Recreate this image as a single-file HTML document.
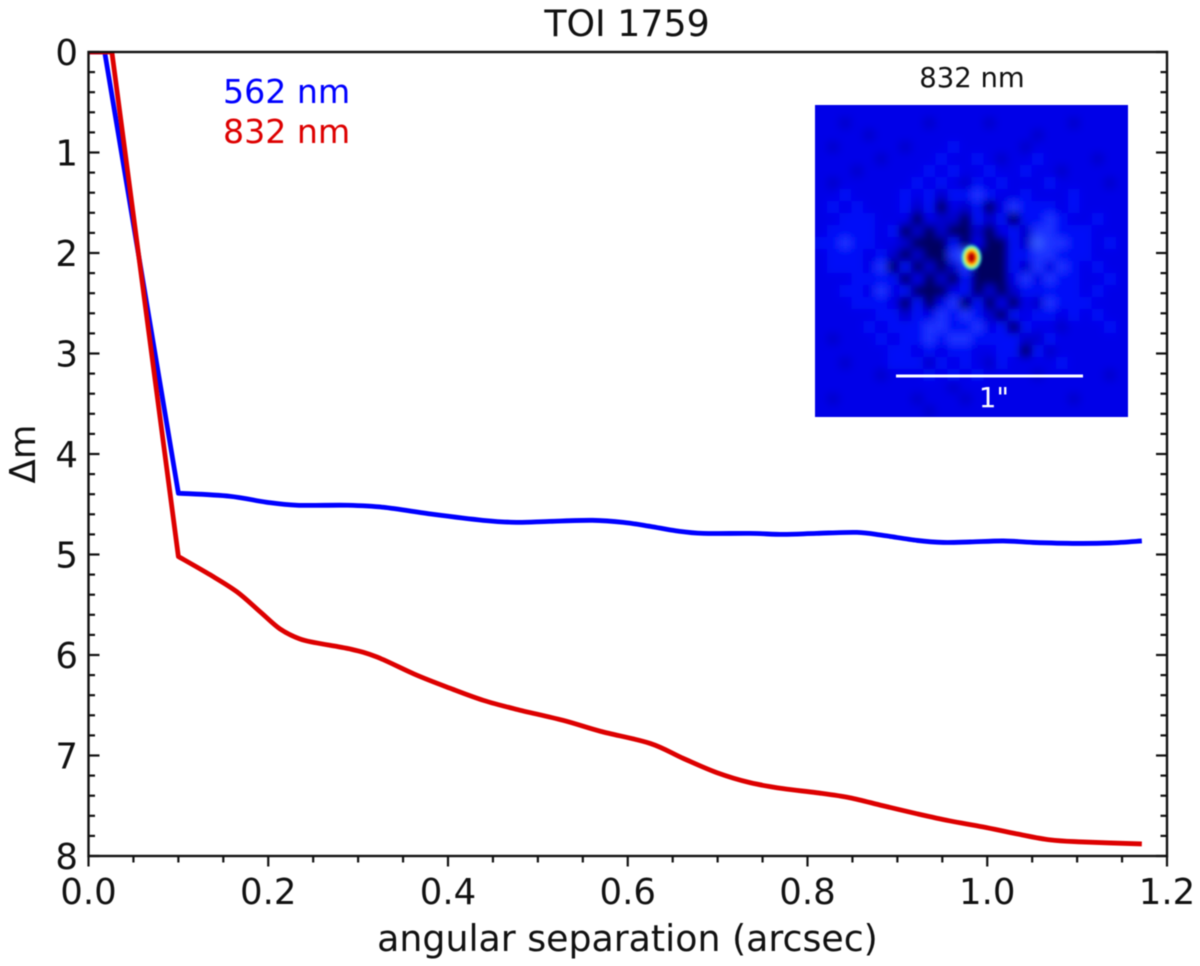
<!DOCTYPE html>
<html lang="en">
<head>
<meta charset="utf-8">
<title>TOI 1759 contrast curve</title>
<style>
html,body{margin:0;padding:0;background:#fff;width:1200px;height:966px;overflow:hidden}
svg{display:block;filter:blur(0.6px)}
text{font-family:"DejaVu Sans","Liberation Sans",sans-serif;fill:#111}
</style>
</head>
<body>
<svg id="chart" xmlns="http://www.w3.org/2000/svg" width="1200" height="966" viewBox="0 0 1200 966">
  <defs>
    <clipPath id="plot-clip"><rect x="88.5" y="52" width="1078.5" height="804"/></clipPath>
    <clipPath id="inset-clip"><rect x="815" y="105" width="313" height="312"/></clipPath>
    <filter id="smooth" x="-5%" y="-5%" width="110%" height="110%"><feGaussianBlur stdDeviation="4.2"/></filter>
    <filter id="peak-smooth" x="-50%" y="-50%" width="200%" height="200%"><feGaussianBlur stdDeviation="1.3"/></filter>
  </defs>
  <text x="627" y="36" font-size="36.3" text-anchor="middle">TOI 1759</text>
  <g id="inset">
    <text x="972" y="87" font-size="27.5" text-anchor="middle">832 nm</text>
    <rect x="815" y="105" width="313" height="312" fill="#0000e4"/>
    <g clip-path="url(#inset-clip)"><g id="heat" filter="url(#smooth)"></g></g>
    <g id="peak" filter="url(#peak-smooth)"></g>
    <line x1="896" x2="1083" y1="376" y2="376" stroke="#fff" stroke-width="3"/>
    <text x="994" y="407" font-size="27.5" text-anchor="middle" style="fill:#fff">1"</text>
  </g>
  <g id="series" clip-path="url(#plot-clip)"></g>
  <g id="axes"></g>
  <text x="223" y="103" font-size="33.2" style="fill:#0000ff">562 nm</text>
  <text x="223" y="143" font-size="33.2" style="fill:#dd0000">832 nm</text>
  <text x="627.5" y="951" font-size="36.3" text-anchor="middle">angular separation (arcsec)</text>
  <text transform="translate(35 454) rotate(-90)" font-size="35.5" text-anchor="middle">Δm</text>
</svg>
<script>
const xTickLabels = ['0.0', '0.2', '0.4', '0.6', '0.8', '1.0', '1.2'];
const yTickLabels = ['0', '1', '2', '3', '4', '5', '6', '7', '8'];
const blueX = [0, 0.018, 0.1, 0.157, 0.198, 0.232, 0.288, 0.328, 0.383, 0.439, 0.476, 0.513, 0.561, 0.595, 0.625, 0.654, 0.684, 0.736, 0.773, 0.81, 0.855, 0.884, 0.922, 0.951, 0.981, 1.018, 1.051, 1.1, 1.137, 1.172];
const blueY = [0, 0, 4.39, 4.42, 4.48, 4.51, 4.51, 4.53, 4.6, 4.66, 4.68, 4.67, 4.66, 4.68, 4.72, 4.765, 4.79, 4.79, 4.8, 4.79, 4.78, 4.81, 4.86, 4.88, 4.875, 4.865, 4.88, 4.89, 4.885, 4.865];
const redX = [0, 0.026, 0.1, 0.135, 0.165, 0.191, 0.213, 0.235, 0.254, 0.291, 0.321, 0.365, 0.402, 0.439, 0.476, 0.528, 0.57, 0.625, 0.662, 0.699, 0.736, 0.773, 0.81, 0.847, 0.884, 0.922, 0.958, 0.995, 1.033, 1.07, 1.106, 1.172];
const redY = [0, 0, 5.02, 5.2, 5.37, 5.57, 5.74, 5.84, 5.88, 5.94, 6.02, 6.2, 6.33, 6.45, 6.54, 6.65, 6.76, 6.88, 7.03, 7.17, 7.27, 7.33, 7.37, 7.42, 7.5, 7.58, 7.65, 7.71, 7.78, 7.84, 7.86, 7.88];
const heatRows = [
  '22222222222222222222222222',
  '22122222212222122222212222',
  '22221222222222222212222222',
  '21222221222322222122222222',
  '22222122223223212232222122',
  '22212222232322322322122222',
  '21222222323213232223222212',
  '22322223231334322322232222',
  '23232223130213024333232222',
  '22333222021103130334322322',
  '23333230101001023144333222',
  '33433221000302003154433232',
  '23332310100450003344333222',
  '23332403010140003142432322',
  '22233330201030002424332232',
  '22332423000230101333332322',
  '22233320302403020214333222',
  '22222331324343103233232322',
  '22223233344334230322122232',
  '21222323343443333113222222',
  '22222233232332233031222222',
  '22122233313232132222322222',
  '22222122232323222212222212',
  '22222222222122222222222222',
  '21222222122212222222212222',
  '22222222212222222222222222'
];
const heatLevels = ['#000060', '#0000cc', '#0000e8', '#0608f8', '#1c30ff', '#3458ff'];
const peakRx = [10, 8, 6.5, 5.2, 3.6];
const peakRy = [12.5, 10.5, 8.5, 6.8, 4.6];
const peakColors = ['#30d8d0', '#a0f060', '#ffe000', '#ff5000', '#b80000'];

const NS = 'http://www.w3.org/2000/svg';
const xPx = v => 88.5 + (v / 1.2) * 1078.5;
const yPx = v => 52 + (v / 8) * 804;
const axes = document.getElementById('axes');
const series = document.getElementById('series');
const heat = document.getElementById('heat');
const peak = document.getElementById('peak');

function make(tag, attrs, parent) {
  const el = document.createElementNS(NS, tag);
  for (const k in attrs) el.setAttribute(k, attrs[k]);
  parent.appendChild(el);
  return el;
}

/* heatmap cells */
const cellW = 313 / heatRows[0].length;
const cellH = 312 / heatRows.length;
heatRows.forEach((row, r) => {
  row.split('').forEach((d, c) => {
    const cell = make('rect', {x: 815 + c * cellW, y: 105 + r * cellH, width: cellW + 0.5, height: cellH + 0.5, fill: heatLevels[+d]}, heat);
    
    
  });
});

/* central stellar peak */
peakRx.forEach((rx, i) => {
  const e = make('ellipse', {cx: 971.5, cy: 257.5, rx: rx, ry: peakRy[i], fill: peakColors[i]}, peak);
  
  
});

/* series: straight up to the knee (third point), smooth spline afterwards */
function drawLine(xs, ys, color, name) {
  const px = xs.map(xPx);
  const py = ys.map(yPx);
  let d = 'M' + px[0] + ' ' + py[0] + ' L' + px[1] + ' ' + py[1] + ' L' + px[2] + ' ' + py[2];
  for (let i = 2; i < px.length - 1; i++) {
    const a = Math.max(i - 1, 2);
    const b = Math.min(i + 2, px.length - 1);
    const c1x = px[i] + (px[i + 1] - px[a]) / 6;
    const c1y = py[i] + (py[i + 1] - py[a]) / 6;
    const c2x = px[i + 1] - (px[b] - px[i]) / 6;
    const c2y = py[i + 1] - (py[b] - py[i]) / 6;
    d += ' C' + c1x.toFixed(2) + ' ' + c1y.toFixed(2) + ' ' + c2x.toFixed(2) + ' ' + c2y.toFixed(2) + ' ' + px[i + 1].toFixed(2) + ' ' + py[i + 1].toFixed(2);
  }
  const line = make('path', {d: d, fill: 'none', stroke: color, 'stroke-width': 4.8, 'stroke-linejoin': 'round'}, series);
  
  
}
drawLine(blueX, blueY, '#0000ff', 'series-562-nm');
drawLine(redX, redY, '#dd0000', 'series-832-nm');

/* spines */
const frame = make('rect', {x: 88.5, y: 52, width: 1078.5, height: 804, fill: 'none', stroke: '#111', 'stroke-width': 2.4}, axes);



function tick(x1, y1, x2, y2, name) {
  const t = make('line', {x1: x1, y1: y1, x2: x2, y2: y2, stroke: '#111', 'stroke-width': 2.2}, axes);
  
  
}

/* x ticks */
for (let i = 0; i <= 24; i++) {
  const v = i * 0.05;
  const major = i % 4 === 0;
  tick(xPx(v), 856, xPx(v), 856 + (major ? 10.5 : 6.5), major ? 'x-major-tick' : 'x-minor-tick');
}
xTickLabels.forEach(label => {
  const t = make('text', {x: xPx(parseFloat(label)), y: 904, 'font-size': 35.5, 'text-anchor': 'middle'}, axes);
  t.textContent = label;
  
  
});

/* y ticks */
for (let i = 0; i <= 40; i++) {
  const v = i * 0.2;
  const major = i % 5 === 0;
  const len = major ? 11 : 6.5;
  tick(88.5, yPx(v), 88.5 + len, yPx(v), major ? 'y-major-tick-left' : 'y-minor-tick-left');
  tick(1167, yPx(v), 1167 - len, yPx(v), major ? 'y-major-tick-right' : 'y-minor-tick-right');
}
yTickLabels.forEach(label => {
  const t = make('text', {x: 78, y: yPx(parseFloat(label)) + 13, 'font-size': 35.5, 'text-anchor': 'end'}, axes);
  t.textContent = label;
  
  
});
</script>
</body>
</html>
